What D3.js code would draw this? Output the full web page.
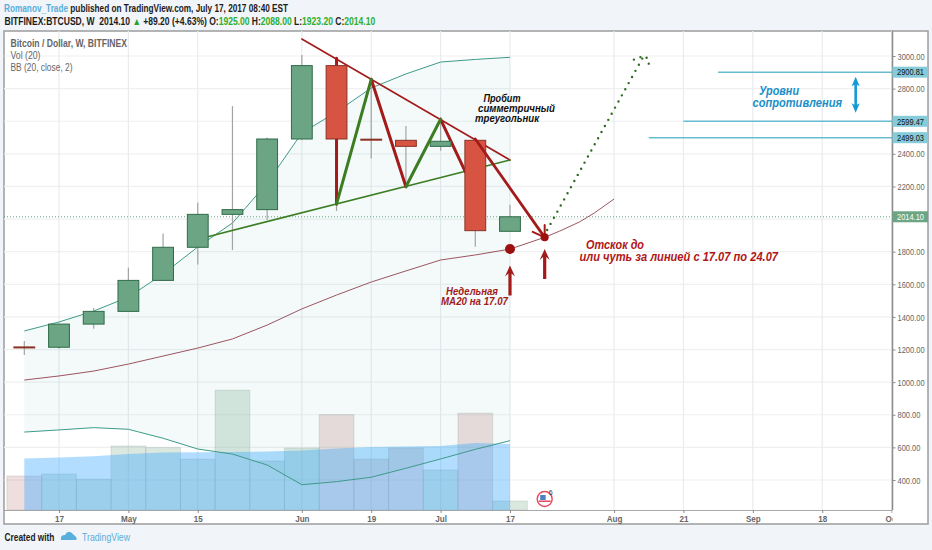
<!DOCTYPE html>
<html>
<head>
<meta charset="utf-8">
<script src="https://cdn.jsdelivr.net/npm/d3@7"></script>
<style>
  html, body { margin: 0; padding: 0; background: #f1f4f8; }
  svg { display: block; font-family: "Liberation Sans", Arial, sans-serif; }
  .axis text { fill: #666; font-size: 9.4px; }
  .axis .domain { stroke: #8c8c8c; stroke-width: 1.5px; }
  .axis line { stroke: #8c8c8c; }
  .note { font-weight: bold; font-style: italic; }
</style>
</head>
<body>
<svg id="chart" width="932" height="550"></svg>
<script>
// weekly bars, BITFINEX:BTCUSD
const weeks = ["2017-04-10","2017-04-17","2017-04-24","2017-05-01","2017-05-08","2017-05-15","2017-05-22","2017-05-29",
               "2017-06-05","2017-06-12","2017-06-19","2017-06-26","2017-07-03","2017-07-10","2017-07-17"];
const opens  = [1216,1214,1356,1434,1624,1827,2029,2058,2491,2941,2490,2483,2446,2483,1925];
const highs  = [1252,1360,1455,1702,1912,2100,2693,2501,3006,2986,2857,2571,2626,2495,2088];
const lows   = [1166,1205,1328,1430,1620,1722,1810,1994,2485,2050,2372,2198,2419,1831,1923.2];
const closes = [1215,1356,1434,1624,1827,2029,2058,2491,2941,2491,2489,2446,2477,1929,2014.1];
const volumes  = [170,180,154,320,312,254,599,245,310,477,254,310,200,484,45];
const volumeMa = [258,262,269,280,287,289,290,292,297,308,315,317,320,335,330];

const bbUpper = [1314,1369,1436,1522,1663,1829,1976,2221,2528,2657,2804,2890,2963,2979,2992];
const bbLower = [694,707,721,711,656,590,559,492,371,390,417,472,529,588,641];
// basis runs on past the last bar in the author's hand drawn curve
const basisDates  = weeks.concat(["2017-07-24","2017-07-27","2017-07-31","2017-08-03","2017-08-07"]);
const basisValues = [1013,1038,1068,1111,1160,1209,1265,1350,1449,1534,1614,1682,1749,1780,1816,1888,1926,1982,2037,2123];

const priceGrid  = [3000,2800,2600,2400,2200,2000,1800,1600,1400,1200,1000,800,600,400];
const priceTicks = [3000,2800,2400,2200,1800,1600,1400,1200,1000,800,600,400];
const timeTicks  = ["2017-04-17","2017-05-01","2017-05-15","2017-06-05","2017-06-19","2017-07-03","2017-07-17",
                    "2017-08-07","2017-08-21","2017-09-04","2017-09-18","2017-10-02"];
const timeLabels = ["17","May","15","Jun","19","Jul","17","Aug","21","Sep","18","Oct"];

const lastPrice = 2014.10;
const levels      = [2900.81,2599.47,2499.03];
const levelStarts = ["2017-08-28","2017-08-21","2017-08-14"];

// drawings, [date, price]
const redTrend   = [["2017-06-05",3104],["2017-07-17",2362]];
const greenTrend = [["2017-05-17",1892],["2017-07-17",2362]];
const redWick    = [["2017-06-12",2986],["2017-06-12",2092]];
const greenLegs  = [[["2017-06-12",2092],["2017-06-19",2857]],[["2017-06-26",2198],["2017-07-03",2612]]];
const redLegs    = [[["2017-06-19",2857],["2017-06-26",2198]],[["2017-07-03",2612],["2017-07-08",2290]]];
const bigLeg     = [["2017-07-10",2491],["2017-07-24",1888]];
const bigLegHead = [[["2017-07-24",1888],["2017-07-21T14:00",1922]],[["2017-07-24",1888],["2017-07-24",1964]]];
const bounce     = [["2017-07-24T12:00",1933],["2017-08-13",3001]];
const bounceHead = [["2017-08-11",2978],["2017-08-13",3001],["2017-08-14",2980],["2017-08-14",2945]];
const ma20Dots   = [["2017-07-17",1816,5],["2017-07-24",1888,4]];
const upArrows   = [["2017-07-17",1716,30],["2017-07-24",1816,30]];

const pane = {left: 4, top: 31, right: 892.5, bottom: 510, outerRight: 928, outerBottom: 524};
const toDate = s => new Date(s + (s.length > 10 ? "Z" : "T00:00Z"));

const x = d3.scaleUtc()
  .domain([toDate("2017-04-17"), toDate("2017-10-02")])
  .range([59, 891.6]);
const y = d3.scaleLinear().domain([400, 3000]).range([480, 56]);
const yVol = d3.scaleLinear().domain([0, 600]).range([pane.bottom, 390]);
const step = x(toDate("2017-04-24")) - x(toDate("2017-04-17"));

const line = d3.line().x(d => x(toDate(d[0]))).y(d => y(d[1]));

const svg = d3.select("#chart");
const defs = svg.append("defs");
defs.append("clipPath").attr("id", "timeClip").append("rect")
  .attr("x", pane.left).attr("y", pane.bottom).attr("width", pane.right - pane.left).attr("height", 16);

// frame
svg.append("rect")
  .attr("x", pane.left).attr("y", pane.top)
  .attr("width", pane.outerRight - pane.left).attr("height", pane.outerBottom - pane.top)
  .attr("fill", "#fff").attr("stroke", "#9c9c9c").attr("stroke-width", 1.5);

// grid
svg.append("g").selectAll("line").data(priceGrid).enter().append("line")
  .attr("x1", pane.left).attr("x2", pane.right)
  .attr("y1", d => y(d)).attr("y2", d => y(d))
  .attr("stroke", "#eff0f2").attr("stroke-width", 1.2);
svg.append("g").selectAll("line").data(timeTicks).enter().append("line")
  .attr("x1", d => x(toDate(d))).attr("x2", d => x(toDate(d)))
  .attr("y1", pane.top).attr("y2", pane.bottom)
  .attr("stroke", "#e9ebee").attr("stroke-width", 1.2);

// volume
svg.append("g").selectAll("rect").data(weeks).enter().append("rect")
  .attr("x", d => x(toDate(d)) - step / 2)
  .attr("width", step)
  .attr("y", (d, i) => yVol(volumes[i]))
  .attr("height", (d, i) => yVol(0) - yVol(volumes[i]))
  .attr("fill", (d, i) => closes[i] > opens[i] ? "#6ba583" : "#a85a5a")
  .attr("fill-opacity", (d, i) => closes[i] > opens[i] ? 0.25 : 0.2)
  .attr("stroke", "#8a9a90").attr("stroke-opacity", 0.25);

svg.append("path")
  .datum(weeks)
  .attr("d", d3.area()
    .x(d => x(toDate(d)))
    .y0(yVol(0))
    .y1((d, i) => yVol(volumeMa[i])))
  .attr("fill", "#3fa9ff").attr("fill-opacity", 0.4);

// bollinger bands
svg.append("path")
  .datum(weeks)
  .attr("d", d3.area()
    .x(d => x(toDate(d)))
    .y0((d, i) => y(bbLower[i]))
    .y1((d, i) => y(bbUpper[i])))
  .attr("fill", "#2fa89a").attr("fill-opacity", 0.06);
[bbUpper, bbLower].forEach(band => {
  svg.append("path")
    .attr("d", line(weeks.map((d, i) => [d, band[i]])))
    .attr("fill", "none").attr("stroke", "#3f9a8a").attr("stroke-width", 1);
});
svg.append("path")
  .attr("d", line(basisDates.map((d, i) => [d, basisValues[i]])))
  .attr("fill", "none").attr("stroke", "#9c5560").attr("stroke-width", 1);

// last price line
svg.append("line")
  .attr("x1", pane.left).attr("x2", pane.right)
  .attr("y1", y(lastPrice)).attr("y2", y(lastPrice))
  .attr("stroke", "#6ba583").attr("stroke-dasharray", "1 2");

// levels
svg.append("g").selectAll("line").data(levels).enter().append("line")
  .attr("x1", (d, i) => x(toDate(levelStarts[i]))).attr("x2", pane.right)
  .attr("y1", d => y(d)).attr("y2", d => y(d))
  .attr("stroke", "#68bccf").attr("stroke-width", 1.4);

function stroke(points, color, width) {
  return svg.append("path").attr("d", line(points))
    .attr("fill", "none").attr("stroke", color).attr("stroke-width", width).attr("stroke-linecap", "round");
}
const darkRed = "#a31a1a", darkGreen = "#3c7d24";

// candle wicks go under the drawings, bodies over them
svg.append("g").selectAll("line").data(weeks).enter().append("line")
  .attr("x1", d => x(toDate(d))).attr("x2", d => x(toDate(d)))
  .attr("y1", (d, i) => y(highs[i])).attr("y2", (d, i) => y(lows[i]))
  .attr("stroke", "#a3a3a5").attr("stroke-width", 1.2);

stroke(redTrend, darkRed, 1.6);
stroke(greenTrend, darkGreen, 1.6);
stroke(redWick, darkRed, 3);
redLegs.forEach(l => stroke(l, darkRed, 3));

svg.append("g").selectAll("rect").data(weeks).enter().append("rect")
  .attr("x", d => x(toDate(d)) - step * 0.3)
  .attr("width", step * 0.6)
  .attr("y", (d, i) => y(Math.max(opens[i], closes[i])))
  .attr("height", (d, i) => Math.max(1, Math.abs(y(opens[i]) - y(closes[i]))))
  .attr("fill", (d, i) => closes[i] > opens[i] ? "#6ba583" : "#d75442")
  .attr("stroke", (d, i) => closes[i] > opens[i] ? "#2f6b49" : "#8a3226");

// drawings on top
greenLegs.forEach(l => stroke(l, darkGreen, 3));
stroke(bigLeg, darkRed, 2.8);
bigLegHead.forEach(l => stroke(l, darkRed, 2));
stroke(bounce, "#2d6a20", 2.4).attr("stroke-dasharray", "0 7");
stroke(bounceHead, "#2d6a20", 2.4).attr("stroke-dasharray", "0 7");

svg.append("g").selectAll("circle").data(ma20Dots).enter().append("circle")
  .attr("cx", d => x(toDate(d[0]))).attr("cy", d => y(d[1])).attr("r", d => d[2])
  .attr("fill", "#9c1010");

upArrows.forEach(a => {
  svg.append("path")
    .attr("transform", `translate(${x(toDate(a[0]))},${y(a[1])})`)
    .attr("d", `M0,0 L5,11 L1.6,8 L1.6,${a[2]} L-1.6,${a[2]} L-1.6,8 L-5,11 Z`)
    .attr("fill", darkRed);
});

// double arrow next to the levels
svg.append("path")
  .attr("transform", `translate(${x(toDate("2017-09-24T18:00"))},${y(2873)})`)
  .attr("d", "M0,0 L4,9.5 L1.3,8 L1.3,28 L4,26.5 L0,36 L-4,26.5 L-1.3,28 L-1.3,8 L-4,9.5 Z")
  .attr("fill", "#159ad4");

// notes, squeezed the same way as the source screenshot
function note(text, xp, yp, size, color, len) {
  svg.append("text").attr("class", "note")
    .attr("x", xp).attr("y", yp).attr("font-size", size).attr("fill", color)
    .attr("textLength", len).attr("lengthAdjust", "spacingAndGlyphs").text(text);
}
note("Пробит", 483.5, 102, 10.5, "#111", 37);
note("симметричный", 478, 112, 10.5, "#111", 77);
note("треугольник", 475, 122, 10.5, "#111", 64);
note("Недельная", 446, 295, 10.5, "#a31a1a", 52);
note("МА20 на 17.07", 441, 305, 10.5, "#a31a1a", 67);
note("Отскок до", 586, 249, 12.3, "#b01616", 58);
note("или чуть за линией с 17.07 по 24.07", 579.5, 261, 12.3, "#b01616", 198.5);
note("Уровни", 759, 95, 12.3, "#1b8fc8", 40);
note("сопротивления", 752.5, 107, 12.3, "#1b8fc8", 89.5);

// axes
const squeeze = ratio => function () {
  d3.select(this).attr("textLength", this.getComputedTextLength() * ratio)
    .attr("lengthAdjust", "spacingAndGlyphs");
};
const yAxis = svg.append("g").attr("class", "axis")
  .attr("transform", `translate(${pane.right},0)`)
  .call(d3.axisRight(y).tickValues(priceTicks).tickFormat(d3.format(".2f")).tickSize(3).tickPadding(2));
yAxis.select(".domain").attr("d", `M0,${pane.top}V${pane.bottom}`);
yAxis.selectAll("text").attr("dy", "0.33em").each(squeeze(0.8));

const xAxis = svg.append("g").attr("clip-path", "url(#timeClip)")
  .append("g").attr("class", "axis")
  .attr("transform", `translate(0,${pane.bottom})`)
  .call(d3.axisBottom(x)
    .tickValues(timeTicks.map(toDate))
    .tickFormat((d, i) => timeLabels[i])
    .tickSize(3).tickPadding(2));
xAxis.select(".domain").attr("d", `M${pane.left},0H${pane.right}`);
xAxis.selectAll("text").attr("font-weight", "bold").each(squeeze(0.86));

// price plates
const plates = svg.append("g").selectAll("g").data(levels.concat([lastPrice])).enter().append("g")
  .attr("transform", d => `translate(${pane.right},${y(d)})`);
plates.append("rect")
  .attr("x", 0).attr("y", -5.5).attr("width", pane.outerRight - pane.right).attr("height", 11)
  .attr("fill", d => d === lastPrice ? "#6ba583" : "#85cbd9");
plates.append("text")
  .attr("x", 4.5).attr("y", 3.3).attr("font-size", 9.4)
  .attr("textLength", 27).attr("lengthAdjust", "spacingAndGlyphs")
  .attr("fill", d => d === lastPrice ? "#fff" : "#111")
  .text(d3.format(".2f"));

// pane legend
const legendLines = ["Bitcoin / Dollar, W, BITFINEX", "Vol (20)", "BB (20, close, 2)"];
const legendWidths = [116.5, 30, 62];
legendLines.forEach((t, i) => svg.append("text")
  .attr("x", 10.5).attr("y", 47 + i * 12.2)
  .attr("font-size", 10).attr("font-weight", i ? "normal" : "bold").attr("fill", "#666")
  .attr("textLength", legendWidths[i]).attr("lengthAdjust", "spacingAndGlyphs").text(t));

// event flag
const flag = svg.append("g").attr("transform", `translate(${x(toDate("2017-07-24"))},499)`);
flag.append("circle").attr("r", 7.5).attr("fill", "#fff").attr("stroke", "#e8475f").attr("stroke-width", 1.4);
flag.append("rect").attr("x", -6).attr("y", 1.5).attr("width", 12).attr("height", 1.5).attr("fill", "#e8475f");
flag.append("rect").attr("x", -4.5).attr("y", -4).attr("width", 5.5).attr("height", 5).attr("fill", "#4f7fc4");
flag.append("text").attr("x", 4).attr("y", -4).attr("font-size", 7).attr("fill", "#333").text("6");

// header, one text per line, scaled to the width in the screenshot
function headLine(xp, yp, len, parts) {
  const g = svg.append("g");
  const t = g.append("text").attr("font-size", 10.4).attr("font-weight", "bold").attr("xml:space", "preserve");
  parts.forEach(p => t.append("tspan").attr("fill", p[1]).text(p[0]));
  g.attr("transform", `translate(${xp},${yp}) scale(${len / t.node().getComputedTextLength()},1)`);
}
const blue = "#5aaedc", black = "#1c1c1c", up = "#2fae2f";
headLine(4, 12, 284, [["Romanov_Trade", blue], [" published on TradingView.com, July 17, 2017 08:40 EST", black]]);
headLine(4.5, 24.5, 371, [
  ["BITFINEX:BTCUSD, W  2014.10 ", black], ["▲", "#27a327"], [" +89.20 (+4.63%) O:", black],
  ["1925.00", up], [" H:", black], ["2088.00", up], [" L:", black], ["1923.20", up], [" C:", black], ["2014.10", up]
]);

// footer
headLine(4.5, 541, 50, [["Created with", black]]);
svg.append("path")
  .attr("d", "M61,540 q-1,-5 4,-5 q3,-6 8,-1 l3,3 q2,3 -1,3 Z")
  .attr("fill", "#5aaedc");
svg.append("text").attr("x", 82).attr("y", 541).attr("font-size", 10.4).attr("fill", blue)
  .attr("textLength", 48).attr("lengthAdjust", "spacingAndGlyphs").text("TradingView");
</script>
</body>
</html>
